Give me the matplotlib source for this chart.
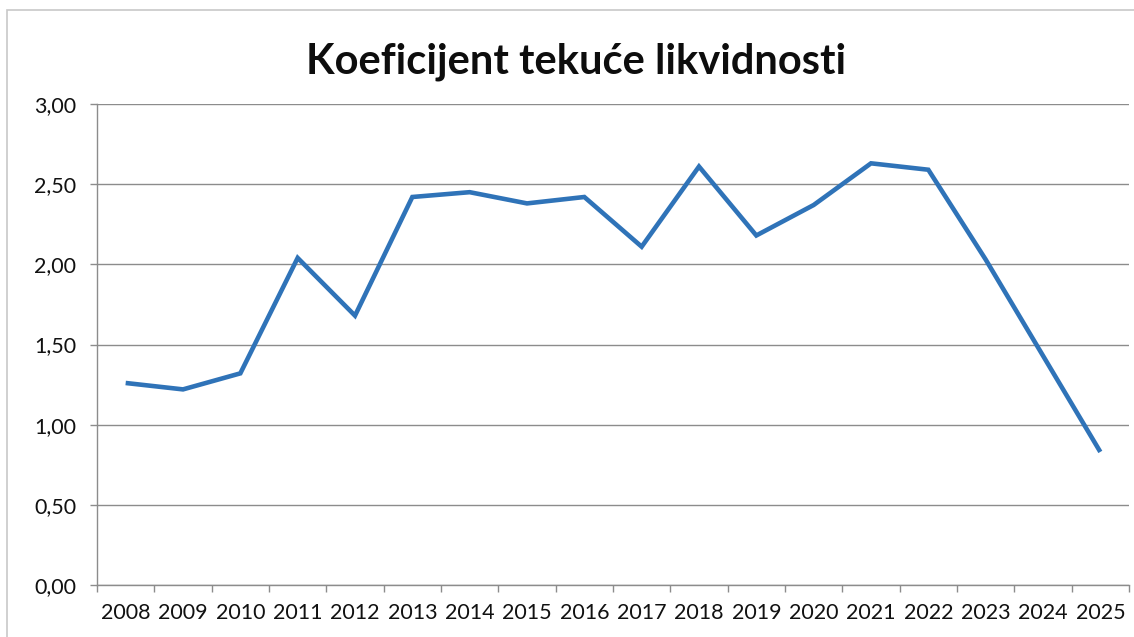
import matplotlib
matplotlib.use("Agg")
import matplotlib.pyplot as plt
from matplotlib.ticker import FixedLocator, NullFormatter, FuncFormatter
from matplotlib.patches import Rectangle

years = ["2008", "2009", "2010", "2011", "2012", "2013", "2014", "2015", "2016",
         "2017", "2018", "2019", "2020", "2021", "2022", "2023", "2024", "2025"]
values = [1.26, 1.22, 1.32, 2.04, 1.68, 2.42, 2.45, 2.38, 2.42,
          2.11, 2.61, 2.18, 2.37, 2.63, 2.59, 2.03, 1.43, 0.83]
y_ticks = [0.0, 0.5, 1.0, 1.5, 2.0, 2.5, 3.0]
title = "Koeficijent tekuće likvidnosti"

W, H = 1134, 637
fig = plt.figure(figsize=(W / 100, H / 100), dpi=100)
fig.patch.set_facecolor("white")

# chart border
fig.patches.append(Rectangle((7 / W, -0.1), 1.2, 1 - 10 / H + 0.1,
                             transform=fig.transFigure, fill=False,
                             edgecolor="#c8c8c8", linewidth=1.2))

ax = fig.add_axes([97 / W, 1 - 585 / H, (1129 - 97) / W, (585 - 104) / H])
x = list(range(len(years)))
ax.plot(x, values, color="#2F73B8", linewidth=3.3, solid_joinstyle="miter",
        solid_capstyle="butt", zorder=3)

ax.set_xlim(-0.5, len(years) - 0.5)
ax.set_ylim(0, 3.0)
ax.set_yticks(y_ticks)
ax.yaxis.set_major_formatter(FuncFormatter(lambda v, p: f"{v:.2f}".replace(".", ",")))

ax.xaxis.set_major_locator(FixedLocator([i - 0.5 for i in range(len(years) + 1)]))
ax.xaxis.set_major_formatter(NullFormatter())
ax.xaxis.set_minor_locator(FixedLocator(x))
ax.set_xticklabels(years, minor=True)

ax.grid(axis="y", color="#8c8c8c", linewidth=1.0, zorder=1)
for s in ["top", "right"]:
    ax.spines[s].set_visible(False)
for s in ["left", "bottom"]:
    ax.spines[s].set_color("#8c8c8c")
    ax.spines[s].set_linewidth(1.0)

ax.tick_params(axis="y", which="major", length=5, width=1, color="#8c8c8c",
               pad=10, labelsize=15.5, labelcolor="#111111")
ax.tick_params(axis="x", which="major", length=5, width=1, color="#8c8c8c")
ax.tick_params(axis="x", which="minor", length=0, pad=13, labelsize=15.5,
               labelcolor="#111111")
for lab in ax.get_yticklabels() + ax.get_xticklabels(minor=True):
    lab.set_fontfamily("Lato")

fig.text(576 / W, 1 - 62 / H, title, ha="center", va="center",
         fontsize=30, fontweight="bold", family="Lato", color="#0d0d0d")

fig.savefig("out.png", dpi=100, facecolor="white")
